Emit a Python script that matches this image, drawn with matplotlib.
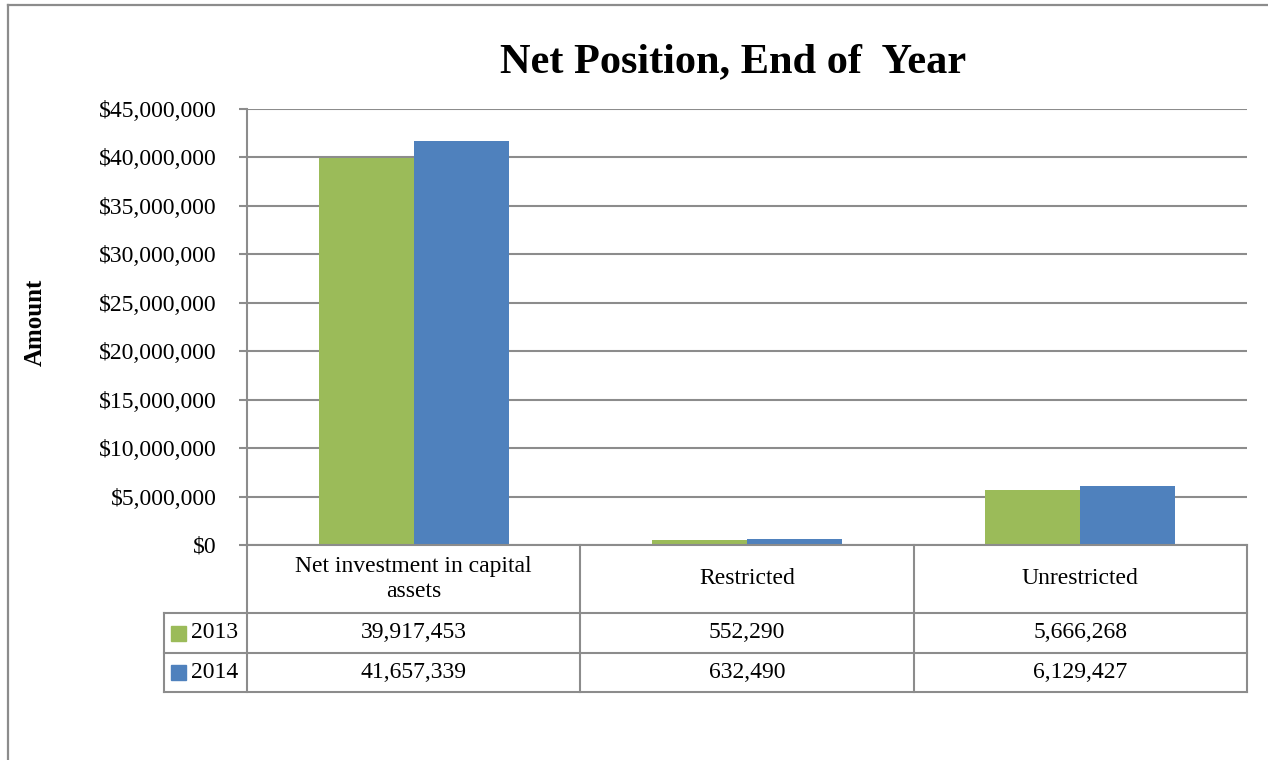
import matplotlib
matplotlib.use("Agg")
import matplotlib.pyplot as plt
from matplotlib.ticker import FuncFormatter, MultipleLocator
from matplotlib.lines import Line2D
from matplotlib.patches import Rectangle
import numpy as np

plt.rcParams['font.family'] = ['Liberation Serif', 'DejaVu Serif']

categories = ["Net investment in capital\nassets", "Restricted", "Unrestricted"]
years = ["2013", "2014"]
values_2013 = [39917453, 552290, 5666268]
values_2014 = [41657339, 632490, 6129427]
colors = ["#9BBB59", "#4F81BD"]
grid_color = "#8C8C8C"
fs = 17

fig = plt.figure(figsize=(12.68, 7.6), dpi=100)

# chart area border (only left and top show)
fig.add_artist(Line2D([8/1268, 8/1268], [0, 1 - 5/760], color=grid_color, lw=1.6))
fig.add_artist(Line2D([8/1268, 1], [1 - 5/760, 1 - 5/760], color=grid_color, lw=1.6))

ax = fig.add_axes([247/1268, 1 - 545/760, 1000/1268, 436/760])
x = np.arange(len(categories))
w = 0.285
series = [values_2013, values_2014]
for i, vals in enumerate(series):
    ax.bar(x + (i - 0.5) * w, vals, width=w, color=colors[i], zorder=3)

ax.set_xlim(-0.5, 2.5)
ax.set_ylim(0, 45000000)
ax.yaxis.set_major_locator(MultipleLocator(5000000))
ax.yaxis.set_major_formatter(FuncFormatter(lambda v, p: "${:,.0f}".format(v)))
ax.grid(axis="y", color=grid_color, lw=1.5, zorder=0)
ax.set_xticks([])
ax.tick_params(axis="y", length=6, width=1.5, color=grid_color, labelsize=fs, pad=16)
for s in ["top", "right", "bottom"]:
    ax.spines[s].set_visible(False)
ax.spines["left"].set_color(grid_color)
ax.spines["left"].set_linewidth(1.5)

fig.text(733/1268, 1 - 62/760, "Net Position, End of  Year", ha="center", va="center",
         fontsize=30.5, fontweight="bold")
fig.text(35/1268, 1 - 322/760, "Amount", rotation=90, ha="center", va="center",
         fontsize=18, fontweight="bold")

# data table under the bars
tax = fig.add_axes([247/1268, 1 - 692/760, 1000/1268, 147/760])
tax.set_xlim(-0.5, 2.5)
row_edges = [0, 68, 108, 147]
tax.set_ylim(147, 0)
tax.axis("off")
legend_left = -0.5 - 83/1000*3

def hline(y, x0, x1):
    tax.add_line(Line2D([x0, x1], [y, y], color=grid_color, lw=1.5, clip_on=False))

def vline(xv, y0, y1):
    tax.add_line(Line2D([xv, xv], [y0, y1], color=grid_color, lw=1.5, clip_on=False))

hline(0, -0.5, 2.5)
for y in row_edges[1:]:
    hline(y, legend_left, 2.5)
for xv in [-0.5, 0.5, 1.5, 2.5]:
    vline(xv, 0, row_edges[-1])
vline(legend_left, row_edges[1], row_edges[-1])

for j, cat in enumerate(categories):
    tax.text(j, row_edges[1] / 2, cat, ha="center", va="center", fontsize=fs, linespacing=1.25)

for i, vals in enumerate(series):
    ymid = (row_edges[i + 1] + row_edges[i + 2]) / 2
    for j, v in enumerate(vals):
        tax.text(j, ymid, "{:,}".format(v), ha="center", va="center", fontsize=fs)
    tax.add_patch(Rectangle((legend_left + 0.022, ymid - 7.5), 0.045, 15,
                            color=colors[i], clip_on=False))
    tax.text(legend_left + 0.08, ymid, years[i], ha="left", va="center", fontsize=fs)

fig.savefig("out.png", dpi=100)
